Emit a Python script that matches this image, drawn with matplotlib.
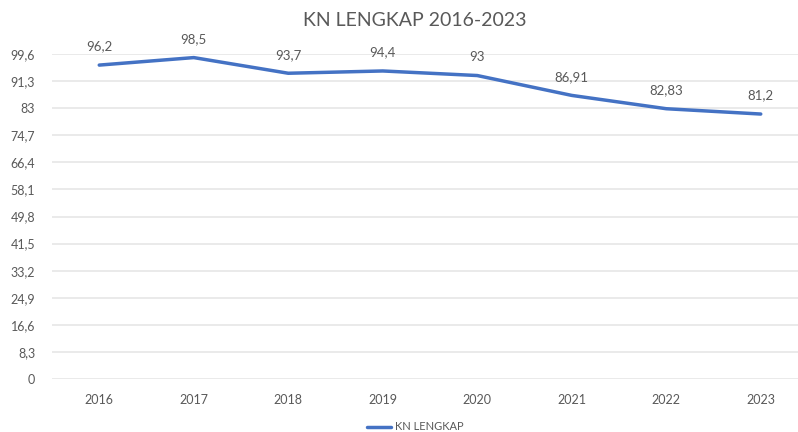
import matplotlib.pyplot as plt
from matplotlib.ticker import FixedLocator, FuncFormatter

plt.rcParams['font.family'] = ['Lato', 'DejaVu Sans']

years = ['2016', '2017', '2018', '2019', '2020', '2021', '2022', '2023']
values = [96.2, 98.5, 93.7, 94.4, 93.0, 86.91, 82.83, 81.2]
value_labels = ['96,2', '98,5', '93,7', '94,4', '93', '86,91', '82,83', '81,2']
y_ticks = [0, 8.3, 16.6, 24.9, 33.2, 41.5, 49.8, 58.1, 66.4, 74.7, 83, 91.3, 99.6]

text_color = '#595959'
line_color = '#4472C4'

fig = plt.figure(figsize=(7.98, 4.32), dpi=100)
ax = fig.add_axes([52 / 798, (432 - 379) / 432, (808 - 52) / 798, (379 - 54) / 432])

x = list(range(len(years)))
line, = ax.plot(x, values, color=line_color, linewidth=2.5, solid_capstyle='round',
                label='KN LENGKAP')

for xi, v, lab in zip(x, values, value_labels):
    ax.annotate(lab, (xi, v), xytext=(0, 9), textcoords='offset points',
                ha='center', va='bottom', fontsize=9.5, color=text_color)

ax.set_xlim(-0.5, len(years) - 0.5)
ax.set_ylim(0, 99.6)
ax.set_xticks(x)
ax.set_xticklabels(years)
ax.yaxis.set_major_locator(FixedLocator(y_ticks))
ax.yaxis.set_major_formatter(FuncFormatter(lambda v, p: ('%g' % v).replace('.', ',')))
ax.tick_params(axis='both', length=0, labelsize=9, colors=text_color)
ax.tick_params(axis='x', pad=11)
ax.tick_params(axis='y', pad=12)
ax.grid(axis='y', color='#E6E6E6', linewidth=1.2)
ax.set_axisbelow(True)
for s in ax.spines.values():
    s.set_visible(False)

fig.text(415 / 798, 1 - 20 / 432, 'KN LENGKAP 2016-2023', ha='center', va='center',
         fontsize=14, color=text_color)

fig.legend(handles=[line], loc='center', bbox_to_anchor=(415 / 798, 1 - 427 / 432),
           frameon=False, fontsize=8, labelcolor=text_color, handlelength=2.2,
           handletextpad=0.3)

fig.savefig('out.png', dpi=100)
